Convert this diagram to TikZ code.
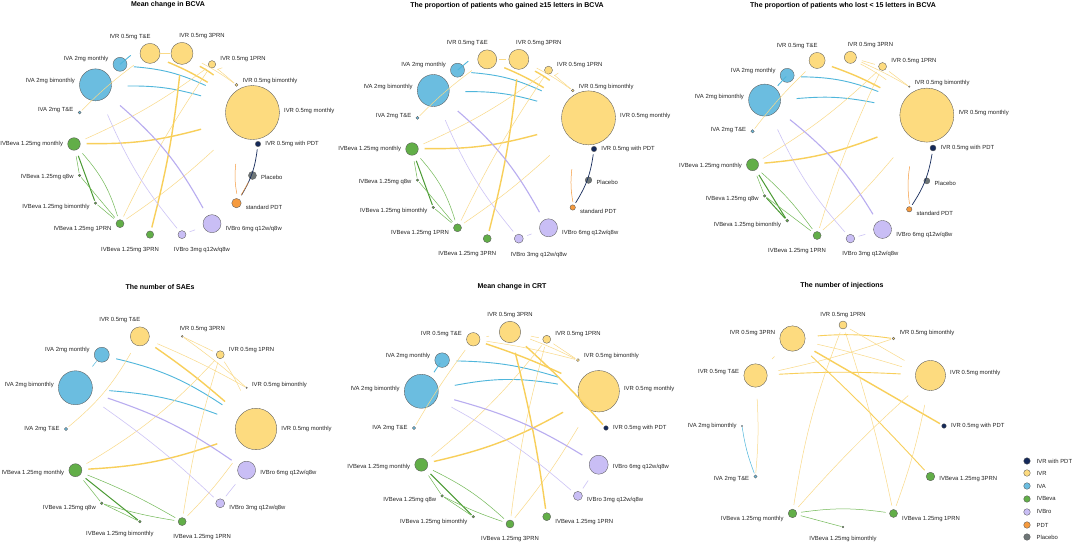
\documentclass[tikz,border=0pt]{standalone}
\usepackage{fontspec}
\setmainfont{Liberation Sans}
\usetikzlibrary{calc,positioning}

\definecolor{ivrF}{HTML}{FDDB7F}
\definecolor{ivaF}{HTML}{6BBDE0}
\definecolor{bevF}{HTML}{62AE48}
\definecolor{broF}{HTML}{C9BEF5}
\definecolor{pdtF}{HTML}{F59A3E}
\definecolor{plcF}{HTML}{6E7677}
\definecolor{pdtN}{HTML}{14295A}
\definecolor{ivrLt}{HTML}{FADA88}
\definecolor{ivrDk}{HTML}{F8CF5A}
\definecolor{ivaLn}{HTML}{4FB6DB}
\definecolor{broLt}{HTML}{CDC4F6}
\definecolor{broLn}{HTML}{B9ADF0}
\definecolor{bevLt}{HTML}{72B957}
\definecolor{bevLn}{HTML}{4A9A33}

\tikzset{
  nd/.style={circle, draw=black!65, line width=0.35pt, inner sep=0pt},
  lbl/.style={font=\fontsize{5.9}{6.5}\selectfont, inner sep=0.5pt, text=black!85},
  ttl/.style={font=\bfseries\fontsize{7}{8}\selectfont, inner sep=0pt},
  yT/.style={draw=ivrLt, line width=0.5pt},
  yM/.style={draw=ivrDk, line width=0.9pt},
  yW/.style={draw=ivrDk, line width=1.4pt},
  bT/.style={draw=ivaLn, line width=0.5pt},
  bM/.style={draw=ivaLn, line width=0.9pt},
  pT/.style={draw=broLt, line width=0.6pt},
  pM/.style={draw=broLn, line width=1.1pt},
  gT/.style={draw=bevLt, line width=0.5pt},
  gW/.style={draw=bevLn, line width=1pt},
  nM/.style={draw=pdtN, line width=0.7pt},
  oT/.style={draw=pdtF, line width=0.5pt},
}

% ring node: name, angle, radius, fill, text
\newcommand{\tnode}[5]{%
  \pgfmathsetmacro\ndc{cos(#2)}%
  \pgfmathsetmacro\nds{sin(#2)}%
  \pgfmathsetmacro\ndy{6*\nds}%
  \pgfmathsetmacro\ndx{abs(\ndc)<0.05 ? 0 : 20*sign(\ndc)}%
  \node[nd, fill=#4, minimum size=2*#3pt, outer sep=#3pt] (#1) at (#2:\ringR) {};
  \ifdim\ndc pt>0.35pt
    \node[lbl, anchor=west] (#1-l) at ($(#1.center)+({#3+4},\ndy)$) {#5};
  \else\ifdim\ndc pt<-0.35pt
    \node[lbl, anchor=east] (#1-l) at ($(#1.center)+({-#3-4},\ndy)$) {#5};
  \else\ifdim\nds pt>0pt
    \node[lbl, anchor=south] (#1-l) at ($(#1.center)+(\ndx,{#3+3})$) {#5};
  \else
    \node[lbl, anchor=north] (#1-l) at ($(#1.center)+(\ndx,{-#3-8})$) {#5};
  \fi\fi\fi
}

\begin{document}
\begin{tikzpicture}[x=1pt,y=1pt]
\useasboundingbox (0,0) rectangle (1072,546);
\fill[white] (0,0) rectangle (1072,546);

% titles
\node[ttl] (ta) at (168,541) {Mean change in BCVA};
\node[ttl] (tb) at (507,540) {The proportion of patients who gained ≥15 letters in BCVA};
\node[ttl] (tc) at (843,540) {The proportion of patients who lost < 15 letters in BCVA};
\node[ttl] (td) at (160,259) {The number of SAEs};
\node[ttl] (te) at (512,259) {Mean change in CRT};
\node[ttl] (tf) at (842,260) {The number of injections};

% mean change in BCVA
\begin{scope}[shift={(166,402)}]
\def\ringR{92}
\tnode{a-wpdt}{0}{2.7}{pdtN}{IVR 0.5mg with PDT}
\tnode{a-m}{20}{27}{ivrF}{IVR 0.5mg monthly}
\tnode{a-bm}{40}{1.5}{ivrF}{IVR 0.5mg bimonthly}
\tnode{a-p1}{60}{3.7}{ivrF}{IVR 0.5mg 1PRN}
\tnode{a-p3}{80}{11}{ivrF}{IVR 0.5mg 3PRN}
\tnode{a-te}{100}{10}{ivrF}{IVR 0.5mg T\&E}
\tnode{a-am}{120}{7}{ivaF}{IVA 2mg monthly}
\tnode{a-ab}{140}{16}{ivaF}{IVA 2mg bimonthly}
\tnode{a-at}{160}{1.5}{ivaF}{IVA 2mg T\&E}
\tnode{a-bvm}{180}{6.3}{bevF}{IVBeva 1.25mg monthly}
\tnode{a-bq}{200}{1.3}{bevF}{IVBeva 1.25mg q8w}
\tnode{a-bvb}{220}{1.3}{bevF}{IVBeva 1.25mg bimonthly}
\tnode{a-b1}{240}{4}{bevF}{IVBeva 1.25mg 1PRN}
\tnode{a-b3}{260}{3.7}{bevF}{IVBeva 1.25mg 3PRN}
\tnode{a-r3}{280}{4}{broF}{IVBro 3mg q12w/q8w}
\tnode{a-r6}{300}{9}{broF}{IVBro 6mg q12w/q8w}
\tnode{a-pdt}{320}{4.7}{pdtF}{standard PDT}
\tnode{a-plc}{340}{4}{plcF}{Placebo}
\draw[bM] (a-am) -- (a-ab);
\draw[bM] (a-am) to[bend left=10] (a-m);
\draw[bM] (a-ab) to[bend left=8] (a-m);
\draw[yT] (a-at) to[bend left=4] (a-te);
\draw[yT] (a-te) -- (a-p3);
\draw[yW] (a-te) to[bend left=4] (a-m);
\draw[yW] (a-p3) to[bend left=4] (a-m);
\draw[yT] (a-p3) to[bend left=4] (a-bm);
\draw[yT] (a-p1) -- (a-bm);
\draw[yT] (a-p1) to[bend left=6] (a-m);
\draw[yT] (a-bvm) to[bend right=6] (a-p1);
\draw[yW] (a-bvm) to[bend right=8] (a-m);
\draw[yT] (a-b1) to[bend left=4] (a-p1);
\draw[yT] (a-b1) to[bend right=4] (a-m);
\draw[yW] (a-b3) to[bend right=4] (a-p3);
\draw[gT] (a-bvm) -- (a-bq);
\draw[gW] (a-bvm) -- (a-bvb);
\draw[gT] (a-bvm) to[bend left=12] (a-b1);
\draw[gT] (a-bq) -- (a-b1);
\draw[gT] (a-bvb) -- (a-b1);
\draw[pM] (a-ab) to[bend left=10] (a-r6);
\draw[pT] (a-ab) to[bend right=8] (a-r3);
\draw[pT] (a-r3) -- (a-r6);
\draw[nM] (a-wpdt) to[bend left=12] (a-pdt);
\draw[oT] (a-pdt) to[bend left=8] (a-m);
\draw[oT] (a-plc) -- (a-pdt);
\end{scope}

% gained >=15 letters
\begin{scope}[shift={(503,397)}]
\def\ringR{91}
\tnode{b-wpdt}{0}{2.7}{pdtN}{IVR 0.5mg with PDT}
\tnode{b-m}{20}{27}{ivrF}{IVR 0.5mg monthly}
\tnode{b-bm}{40}{1.3}{ivrF}{IVR 0.5mg bimonthly}
\tnode{b-p1}{60}{4}{ivrF}{IVR 0.5mg 1PRN}
\tnode{b-p3}{80}{10}{ivrF}{IVR 0.5mg 3PRN}
\tnode{b-te}{100}{9.5}{ivrF}{IVR 0.5mg T\&E}
\tnode{b-am}{120}{7}{ivaF}{IVA 2mg monthly}
\tnode{b-ab}{140}{16}{ivaF}{IVA 2mg bimonthly}
\tnode{b-at}{160}{1.5}{ivaF}{IVA 2mg T\&E}
\tnode{b-bvm}{180}{6.3}{bevF}{IVBeva 1.25mg monthly}
\tnode{b-bq}{200}{1.3}{bevF}{IVBeva 1.25mg q8w}
\tnode{b-bvb}{220}{1.3}{bevF}{IVBeva 1.25mg bimonthly}
\tnode{b-b1}{240}{4}{bevF}{IVBeva 1.25mg 1PRN}
\tnode{b-b3}{260}{4}{bevF}{IVBeva 1.25mg 3PRN}
\tnode{b-r3}{280}{4.5}{broF}{IVBro 3mg q12w/q8w}
\tnode{b-r6}{300}{9}{broF}{IVBro 6mg q12w/q8w}
\tnode{b-pdt}{320}{2.7}{pdtF}{standard PDT}
\tnode{b-plc}{340}{3.3}{plcF}{Placebo}
\draw[bM] (b-am) -- (b-ab);
\draw[bM] (b-am) to[bend left=10] (b-m);
\draw[bM] (b-ab) to[bend left=8] (b-m);
\draw[yT] (b-at) to[bend left=4] (b-te);
\draw[yT] (b-te) -- (b-p3);
\draw[yW] (b-te) to[bend left=4] (b-m);
\draw[yW] (b-p3) to[bend left=4] (b-m);
\draw[yT] (b-p3) to[bend left=4] (b-bm);
\draw[yT] (b-p1) -- (b-bm);
\draw[yT] (b-p1) to[bend left=6] (b-m);
\draw[yT] (b-bvm) to[bend right=6] (b-p1);
\draw[yW] (b-bvm) to[bend right=8] (b-m);
\draw[yT] (b-b1) to[bend left=4] (b-p1);
\draw[yT] (b-b1) to[bend right=4] (b-m);
\draw[yW] (b-b3) to[bend right=4] (b-p3);
\draw[gT] (b-bvm) -- (b-bq);
\draw[gW] (b-bvm) -- (b-bvb);
\draw[gT] (b-bvm) to[bend left=12] (b-b1);
\draw[gT] (b-bq) -- (b-b1);
\draw[gT] (b-bvb) -- (b-b1);
\draw[pM] (b-ab) to[bend left=10] (b-r6);
\draw[pT] (b-ab) to[bend right=8] (b-r3);
\draw[pT] (b-r3) -- (b-r6);
\draw[nM] (b-wpdt) to[bend left=12] (b-pdt);
\draw[oT] (b-pdt) to[bend left=8] (b-m);
\end{scope}

% lost < 15 letters
\begin{scope}[shift={(842,398)}]
\def\ringR{91}
\tnode{c-wpdt}{0}{3}{pdtN}{IVR 0.5mg with PDT}
\tnode{c-m}{21.18}{27}{ivrF}{IVR 0.5mg monthly}
\tnode{c-bm}{42.35}{0.8}{ivrF}{IVR 0.5mg bimonthly}
\tnode{c-p1}{63.53}{4}{ivrF}{IVR 0.5mg 1PRN}
\tnode{c-p3}{84.71}{6}{ivrF}{IVR 0.5mg 3PRN}
\tnode{c-te}{105.88}{8}{ivrF}{IVR 0.5mg T\&E}
\tnode{c-am}{127.06}{7}{ivaF}{IVA 2mg monthly}
\tnode{c-ab}{148.24}{16}{ivaF}{IVA 2mg bimonthly}
\tnode{c-at}{169.41}{1.7}{ivaF}{IVA 2mg T\&E}
\tnode{c-bvm}{190.59}{6}{bevF}{IVBeva 1.25mg monthly}
\tnode{c-bq}{211.76}{1.3}{bevF}{IVBeva 1.25mg q8w}
\tnode{c-bvb}{232.94}{1.5}{bevF}{IVBeva 1.25mg bimonthly}
\tnode{c-b1}{254.12}{4}{bevF}{IVBeva 1.25mg 1PRN}
\tnode{c-r3}{275.29}{4.3}{broF}{IVBro 3mg q12w/q8w}
\tnode{c-r6}{296.47}{9}{broF}{IVBro 6mg q12w/q8w}
\tnode{c-pdt}{317.65}{2.7}{pdtF}{standard PDT}
\tnode{c-plc}{338.82}{3}{plcF}{Placebo}
\draw[bM] (c-am) -- (c-ab);
\draw[bM] (c-am) to[bend left=10] (c-m);
\draw[bM] (c-ab) to[bend left=8] (c-m);
\draw[yT] (c-at) to[bend left=4] (c-te);
\draw[yW] (c-te) to[bend left=4] (c-m);
\draw[yT] (c-p3) -- (c-p1);
\draw[yT] (c-p3) to[bend left=3] (c-bm);
\draw[yT] (c-p3) to[bend left=4] (c-m);
\draw[yT] (c-p1) -- (c-bm);
\draw[yT] (c-bvm) to[bend right=6] (c-p1);
\draw[yW] (c-bvm) to[bend right=8] (c-m);
\draw[yT] (c-b1) to[bend left=4] (c-p1);
\draw[yT] (c-b1) to[bend right=4] (c-m);
\draw[gT] (c-bvm) -- (c-bq);
\draw[gW] (c-bvm) -- (c-bvb);
\draw[gT] (c-bvm) to[bend left=6] (c-b1);
\draw[gW] (c-bq) -- (c-bvb);
\draw[gT] (c-bq) -- (c-b1);
\draw[pM] (c-ab) to[bend left=10] (c-r6);
\draw[pT] (c-ab) to[bend right=8] (c-r3);
\draw[pT] (c-r3) -- (c-r6);
\draw[nM] (c-wpdt) to[bend left=12] (c-pdt);
\draw[oT] (c-pdt) to[bend left=8] (c-m);
\end{scope}

% SAEs
\begin{scope}[shift={(161,117)}]
\def\ringR{95}
\tnode{d-m}{0}{20.7}{ivrF}{IVR 0.5mg monthly}
\tnode{d-bm}{25.71}{0.8}{ivrF}{IVR 0.5mg bimonthly}
\tnode{d-p1}{51.43}{4}{ivrF}{IVR 0.5mg 1PRN}
\tnode{d-p3}{77.14}{1}{ivrF}{IVR 0.5mg 3PRN}
\tnode{d-te}{102.86}{9.5}{ivrF}{IVR 0.5mg T\&E}
\tnode{d-am}{128.57}{7.5}{ivaF}{IVA 2mg monthly}
\tnode{d-ab}{154.29}{17}{ivaF}{IVA 2mg bimonthly}
\tnode{d-at}{180}{1.7}{ivaF}{IVA 2mg T\&E}
\tnode{d-bvm}{205.71}{6.5}{bevF}{IVBeva 1.25mg monthly}
\tnode{d-bq}{231.43}{1.3}{bevF}{IVBeva 1.25mg q8w}
\tnode{d-bvb}{257.14}{1.3}{bevF}{IVBeva 1.25mg bimonthly}
\tnode{d-b1}{282.86}{4}{bevF}{IVBeva 1.25mg 1PRN}
\tnode{d-r3}{308.57}{4.5}{broF}{IVBro 3mg q12w/q8w}
\tnode{d-r6}{334.29}{9}{broF}{IVBro 6mg q12w/q8w}
\draw[bT] (d-am) -- (d-ab);
\draw[bM] (d-am) to[bend left=10] (d-m);
\draw[bM] (d-ab) to[bend left=8] (d-m);
\draw[yT] (d-at) to[bend right=10] (d-te);
\draw[yW] (d-te) to[bend left=3] (d-m);
\draw[yT] (d-te) to[bend left=3] (d-bm);
\draw[yT] (d-p3) -- (d-p1);
\draw[yT] (d-p3) to[bend left=3] (d-bm);
\draw[yT] (d-p1) to[bend left=4] (d-m);
\draw[yT] (d-bvm) to[bend right=8] (d-p1);
\draw[yW] (d-bvm) to[bend right=8] (d-m);
\draw[yT] (d-b1) to[bend left=4] (d-p1);
\draw[yT] (d-b1) to[bend right=4] (d-m);
\draw[gT] (d-bvm) -- (d-bq);
\draw[gW] (d-bvm) -- (d-bvb);
\draw[gT] (d-bvm) to[bend left=4] (d-b1);
\draw[gT] (d-bq) -- (d-bvb);
\draw[gT] (d-bq) to[bend right=4] (d-b1);
\draw[pM] (d-ab) to[bend left=8] (d-r6);
\draw[pT] (d-ab) to[bend left=4] (d-r3);
\draw[pT] (d-r3) -- (d-r6);
\end{scope}

% mean change in CRT
\begin{scope}[shift={(510,118)}]
\def\ringR{96}
\tnode{e-wpdt}{0}{2.3}{pdtN}{IVR 0.5mg with PDT}
\tnode{e-m}{22.5}{20.7}{ivrF}{IVR 0.5mg monthly}
\tnode{e-bm}{45}{1.5}{ivrF}{IVR 0.5mg bimonthly}
\tnode{e-p1}{67.5}{4}{ivrF}{IVR 0.5mg 1PRN}
\tnode{e-p3}{90}{10.7}{ivrF}{IVR 0.5mg 3PRN}
\tnode{e-te}{112.5}{6.7}{ivrF}{IVR 0.5mg T\&E}
\tnode{e-am}{135}{7.3}{ivaF}{IVA 2mg monthly}
\tnode{e-ab}{157.5}{17}{ivaF}{IVA 2mg bimonthly}
\tnode{e-at}{180}{1.7}{ivaF}{IVA 2mg T\&E}
\tnode{e-bvm}{202.5}{6.5}{bevF}{IVBeva 1.25mg monthly}
\tnode{e-bq}{225}{1.3}{bevF}{IVBeva 1.25mg q8w}
\tnode{e-bvb}{247.5}{1.3}{bevF}{IVBeva 1.25mg bimonthly}
\tnode{e-b3}{270}{4}{bevF}{IVBeva 1.25mg 3PRN}
\tnode{e-b1}{292.5}{4}{bevF}{IVBeva 1.25mg 1PRN}
\tnode{e-r3}{315}{4.5}{broF}{IVBro 3mg q12w/q8w}
\tnode{e-r6}{337.5}{9.5}{broF}{IVBro 6mg q12w/q8w}
\draw[bM] (e-am) -- (e-ab);
\draw[bT] (e-ab) -- (e-at);
\draw[bM] (e-am) to[bend left=8] (e-m);
\draw[bM] (e-ab) to[bend left=10] (e-m);
\draw[yT] (e-at) to[bend left=3] (e-te);
\draw[yT] (e-te) -- (e-p3);
\draw[yT] (e-p3) -- (e-p1);
\draw[yW] (e-te) to[bend left=3] (e-m);
\draw[yT] (e-te) to[bend left=3] (e-bm);
\draw[yW] (e-p3) to[bend left=3] (e-wpdt);
\draw[yT] (e-p3) to[bend left=3] (e-bm);
\draw[yT] (e-p1) -- (e-bm);
\draw[yT] (e-bvm) to[bend right=6] (e-p1);
\draw[yW] (e-bvm) to[bend right=8] (e-m);
\draw[yT] (e-b3) to[bend left=4] (e-p1);
\draw[yT] (e-b3) to[bend right=4] (e-m);
\draw[yW] (e-b1) to[bend right=3] (e-p3);
\draw[gT] (e-bvm) -- (e-bq);
\draw[gW] (e-bvm) -- (e-bvb);
\draw[gT] (e-bvm) to[bend left=8] (e-b3);
\draw[gT] (e-bq) -- (e-bvb);
\draw[gT] (e-bq) to[bend right=4] (e-b3);
\draw[pM] (e-ab) to[bend left=8] (e-r6);
\draw[pT] (e-ab) to[bend left=6] (e-r3);
\draw[pT] (e-r3) -- (e-r6);
\end{scope}

% number of injections
\begin{scope}[shift={(843,120)}]
\def\ringR{101}
\tnode{f-wpdt}{0}{2.3}{pdtN}{IVR 0.5mg with PDT}
\tnode{f-m}{30}{15}{ivrF}{IVR 0.5mg monthly}
\tnode{f-bm}{60}{1.3}{ivrF}{IVR 0.5mg bimonthly}
\tnode{f-p1}{90}{4}{ivrF}{IVR 0.5mg 1PRN}
\tnode{f-p3}{120}{12.7}{ivrF}{IVR 0.5mg 3PRN}
\tnode{f-te}{150}{11.7}{ivrF}{IVR 0.5mg T\&E}
\tnode{f-ab}{180}{0.6}{ivaF}{IVA 2mg bimonthly}
\tnode{f-at}{210}{1.7}{ivaF}{IVA 2mg T\&E}
\tnode{f-bvm}{240}{4.3}{bevF}{IVBeva 1.25mg monthly}
\tnode{f-bvb}{270}{0.8}{bevF}{IVBeva 1.25mg bimonthly}
\tnode{f-b1}{300}{4}{bevF}{IVBeva 1.25mg 1PRN}
\tnode{f-b3}{330}{4.3}{bevF}{IVBeva 1.25mg 3PRN}
\draw[yT] (f-p3) -- (f-te);
\draw[yM] (f-p3) to[bend left=6] (f-bm);
\draw[yT] (f-p3) to[bend left=2] (f-m);
\draw[yW] (f-p3) -- (f-wpdt);
\draw[yM] (f-p3) to[bend left=2] (f-b3);
\draw[yT] (f-te) to[bend right=3] (f-bm);
\draw[yM] (f-te) to[bend left=3] (f-m);
\draw[yT] (f-te) to[bend left=4] (f-at);
\draw[bT] (f-ab) to[bend right=6] (f-at);
\draw[yT] (f-p1) to[bend right=6] (f-bvm);
\draw[yT] (f-p1) to[bend left=3] (f-b1);
\draw[yT] (f-p1) -- (f-m);
\draw[yT] (f-bvm) to[bend left=3] (f-m);
\draw[yT] (f-b1) to[bend right=4] (f-m);
\draw[gT] (f-bvm) to[bend left=8] (f-b1);
\draw[gT] (f-bvm) -- (f-bvb);
\end{scope}

% legend
\node[nd, fill=pdtN, minimum size=6.6pt] (lg1) at (1027,85) {};
\node[nd, fill=ivrF, minimum size=6.6pt] (lg2) at (1027,73) {};
\node[nd, fill=ivaF, minimum size=6.6pt] (lg3) at (1027,60) {};
\node[nd, fill=bevF, minimum size=6.6pt] (lg4) at (1027,47) {};
\node[nd, fill=broF, minimum size=6.6pt] (lg5) at (1027,34) {};
\node[nd, fill=pdtF, minimum size=6.6pt] (lg6) at (1027,21) {};
\node[nd, fill=plcF, minimum size=6.6pt] (lg7) at (1027,9) {};
\node[lbl, anchor=west] (lg1-l) at (1036,85) {IVR with PDT};
\node[lbl, anchor=west] (lg2-l) at (1036,73) {IVR};
\node[lbl, anchor=west] (lg3-l) at (1036,60) {IVA};
\node[lbl, anchor=west] (lg4-l) at (1036,47) {IVBeva};
\node[lbl, anchor=west] (lg5-l) at (1036,34) {IVBro};
\node[lbl, anchor=west] (lg6-l) at (1036,21) {PDT};
\node[lbl, anchor=west] (lg7-l) at (1036,9) {Placebo};
\end{tikzpicture}
\end{document}
